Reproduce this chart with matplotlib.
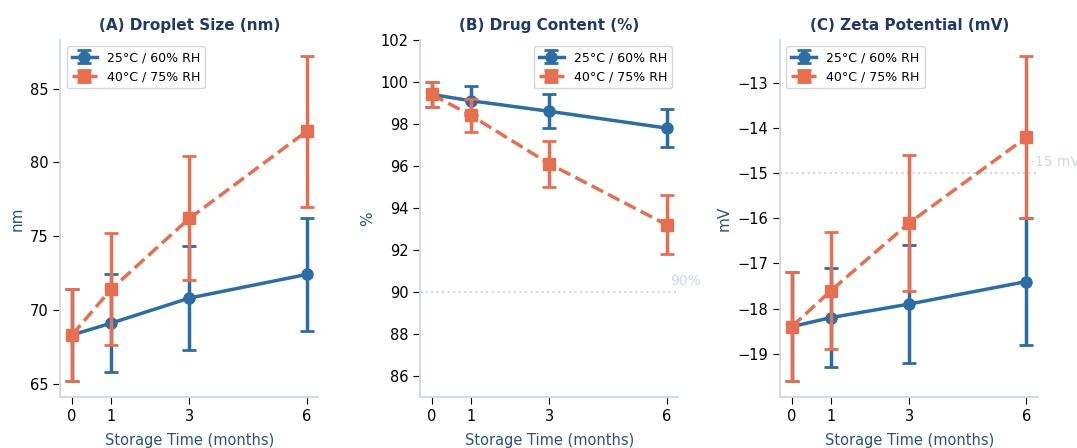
import matplotlib
matplotlib.use('Agg')
import matplotlib.pyplot as plt

# datos
meses = [0, 1, 3, 6]
etiquetas = ['25°C / 60% RH', '40°C / 75% RH']

gota_25 = [68.3, 69.1, 70.8, 72.4]
gota_25_err = [3.1, 3.3, 3.5, 3.8]
gota_40 = [68.3, 71.4, 76.2, 82.1]
gota_40_err = [3.1, 3.8, 4.2, 5.1]

farmaco_25 = [99.4, 99.1, 98.6, 97.8]
farmaco_25_err = [0.6, 0.7, 0.8, 0.9]
farmaco_40 = [99.4, 98.4, 96.1, 93.2]
farmaco_40_err = [0.6, 0.8, 1.1, 1.4]

zeta_25 = [-18.4, -18.2, -17.9, -17.4]
zeta_25_err = [1.2, 1.1, 1.3, 1.4]
zeta_40 = [-18.4, -17.6, -16.1, -14.2]
zeta_40_err = [1.2, 1.3, 1.5, 1.8]

titulos = ['(A) Droplet Size (nm)', '(B) Drug Content (%)', '(C) Zeta Potential (mV)']
unidades = ['nm', '%', 'mV']

AZUL = '#2e6da4'
NARANJA = '#e76f51'
NAVY = '#1f3a68'
LABEL = '#2c5282'
GRIS = '#cfd8e3'

fig, axes = plt.subplots(1, 3, figsize=(10.77, 4.48), dpi=100)
plt.subplots_adjust(left=0.056, right=0.964, bottom=0.114, top=0.911, wspace=0.395)

series = [
    (gota_25, gota_25_err, gota_40, gota_40_err),
    (farmaco_25, farmaco_25_err, farmaco_40, farmaco_40_err),
    (zeta_25, zeta_25_err, zeta_40, zeta_40_err),
]
legend_loc = ['upper left', 'upper right', 'upper left']

for i, ax in enumerate(axes):
    v25, e25, v40, e40 = series[i]
    ax.errorbar(meses, v25, yerr=e25, color=AZUL, marker='o', markersize=8,
                linewidth=2.5, capsize=5, capthick=2, elinewidth=2.5,
                linestyle='-', label=etiquetas[0], zorder=3)
    ax.errorbar(meses, v40, yerr=e40, color=NARANJA, marker='s', markersize=8,
                linewidth=2.5, capsize=5, capthick=2, elinewidth=2.5,
                linestyle='--', label=etiquetas[1], zorder=4)
    ax.set_title(titulos[i], fontsize=11, fontweight='bold', color=NAVY, pad=7)
    ax.set_xlabel('Storage Time (months)', fontsize=10.5, color=LABEL, labelpad=7)
    ax.set_ylabel(unidades[i], fontsize=11, color=LABEL)
    ax.set_xticks(meses)
    ax.tick_params(labelsize=10.5, length=5)
    ax.spines['top'].set_visible(False)
    ax.spines['right'].set_visible(False)
    for lado in ['left', 'bottom']:
        ax.spines[lado].set_color(GRIS)
        ax.spines[lado].set_linewidth(1.3)
        ax.spines[lado].set_zorder(5)
    ax.legend(loc=legend_loc[i], fontsize=9)

axes[1].set_ylim(85, 102)
axes[1].axhline(90, color=GRIS, linestyle=':', linewidth=1.5, zorder=1)
axes[1].text(6.1, 90.2, '90%', color=GRIS, fontsize=10, va='bottom')

axes[2].axhline(-15, color=GRIS, linestyle=':', linewidth=1.5, zorder=1)
axes[2].text(6.1, -14.9, '-15 mV', color=GRIS, fontsize=10, va='bottom')

plt.savefig('out.png', dpi=100)
plt.close()
